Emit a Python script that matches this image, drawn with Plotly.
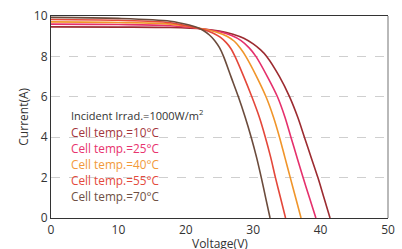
import plotly.graph_objects as go

# Data: (voltage V, current A) per cell temperature
v10 = [0, 10, 17.7, 22.6, 25, 27, 28.6, 30.0, 31.1, 32.0, 33.9, 35.4, 36.6, 37.6, 38.6, 39.6, 40.5, 41.4]
i10 = [9.46, 9.45, 9.43, 9.36, 9.26, 9.1, 8.9, 8.62, 8.32, 8.0, 7.0, 6.0, 5.0, 4.0, 3.0, 2.0, 1.0, 0]

v25 = [0, 10, 17.7, 22.6, 25, 26.8, 28.2, 29.4, 30.4, 32.1, 33.6, 34.7, 35.6, 36.5, 37.4, 38.35, 39.3]
i25 = [9.6, 9.58, 9.52, 9.36, 9.22, 9.03, 8.78, 8.42, 8.0, 7.0, 6.0, 5.0, 4.0, 3.0, 2.0, 1.0, 0]

v40 = [0, 10, 17.7, 22.6, 24.6, 26.1, 27.2, 28.1, 28.9, 30.5, 31.9, 33.0, 33.9, 34.7, 35.5, 36.3, 37.1]
i40 = [9.71, 9.68, 9.6, 9.36, 9.2, 9.0, 8.75, 8.4, 8.0, 7.0, 6.0, 5.0, 4.0, 3.0, 2.0, 1.0, 0]

v55 = [0, 10, 17.7, 21, 22.6, 24, 25.1, 26.0, 26.7, 27.3, 28.6, 29.8, 30.9, 31.8, 32.6, 33.3, 34.05, 34.8]
i55 = [9.83, 9.79, 9.67, 9.45, 9.33, 9.16, 8.95, 8.68, 8.38, 8.0, 7.0, 6.0, 5.0, 4.0, 3.0, 2.0, 1.0, 0]

v70 = [0, 10, 17.7, 20.5, 21.6, 22.6, 23.5, 24.3, 25.0, 25.6, 26.7, 27.8, 28.8, 29.7, 30.5, 31.2, 31.85, 32.5]
i70 = [9.93, 9.88, 9.74, 9.55, 9.44, 9.28, 9.06, 8.78, 8.43, 8.0, 7.0, 6.0, 5.0, 4.0, 3.0, 2.0, 1.0, 0]

series_names = ["Cell temp.=10°C", "Cell temp.=25°C", "Cell temp.=40°C", "Cell temp.=55°C", "Cell temp.=70°C"]
series_v = [v10, v25, v40, v55, v70]
series_i = [i10, i25, i40, i55, i70]
line_colors = ["#9c2b30", "#e5306c", "#f0952a", "#e4473a", "#6b4b3c"]
text_colors = ["#a3363c", "#e8336e", "#f29a3a", "#e44a3c", "#6e5044"]

x_ticks = [0, 10, 20, 30, 40, 50]
y_ticks = [0, 2, 4, 6, 8, 10]

fig = go.Figure()
for name, vv, ii, c in zip(series_names, series_v, series_i, line_colors):
    fig.add_trace(go.Scatter(x=vv, y=ii, mode="lines", name=name,
                             line=dict(color=c, width=1.6, shape="spline", smoothing=0.9),
                             showlegend=False))

font_family = "Open Sans, Noto Sans, sans-serif"

fig.add_annotation(x=2.7, y=5.08, xref="x", yref="y", xanchor="left", yanchor="middle",
                   text="Incident Irrad.=1000W/m<sup>2</sup>", showarrow=False,
                   font=dict(size=11, color="#333333", family=font_family))
label_y = [4.26, 3.47, 2.68, 1.88, 1.08]
for name, ly, tc in zip(series_names, label_y, text_colors):
    fig.add_annotation(x=2.7, y=ly, xref="x", yref="y", xanchor="left", yanchor="middle",
                       text=name, showarrow=False,
                       font=dict(size=11.8, color=tc, family=font_family))

# axis titles
fig.add_annotation(x=-0.084, y=0.5, xref="paper", yref="paper", xanchor="center", yanchor="middle",
                   text="Current(A)", textangle=-90, showarrow=False,
                   font=dict(size=12, color="#333333", family=font_family))
fig.add_annotation(x=0.5, y=-0.125, xref="paper", yref="paper", xanchor="center", yanchor="middle",
                   text="Voltage(V)", showarrow=False,
                   font=dict(size=12, color="#333333", family=font_family))

fig.add_shape(type="line", xref="paper", yref="paper", x0=1, x1=1, y0=0, y1=1,
              line=dict(color="#8a8a8a", width=1.2))

fig.update_layout(
    width=402, height=249,
    margin=dict(l=51, r=14, t=16, b=31),
    paper_bgcolor="white", plot_bgcolor="white",
    font=dict(family=font_family, color="#333333", size=12),
    xaxis=dict(range=[0, 50], tickvals=x_ticks, showgrid=False, zeroline=False,
               showline=True, mirror=True, linecolor="#333333", linewidth=1.2,
               ticks="", tickfont=dict(size=12, color="#333333"), automargin=False),
    yaxis=dict(range=[0, 10], tickvals=y_ticks, showgrid=True, gridcolor="#cfcfcf",
               griddash="dash", gridwidth=1, zeroline=False,
               showline=True, linecolor="#333333", linewidth=1.2,
               ticks="", tickfont=dict(size=12, color="#333333"), automargin=False),
)

fig.write_html("out.html", config={"displayModeBar": False},
               post_script="document.body.style.margin='0';document.body.style.overflow='hidden';")
